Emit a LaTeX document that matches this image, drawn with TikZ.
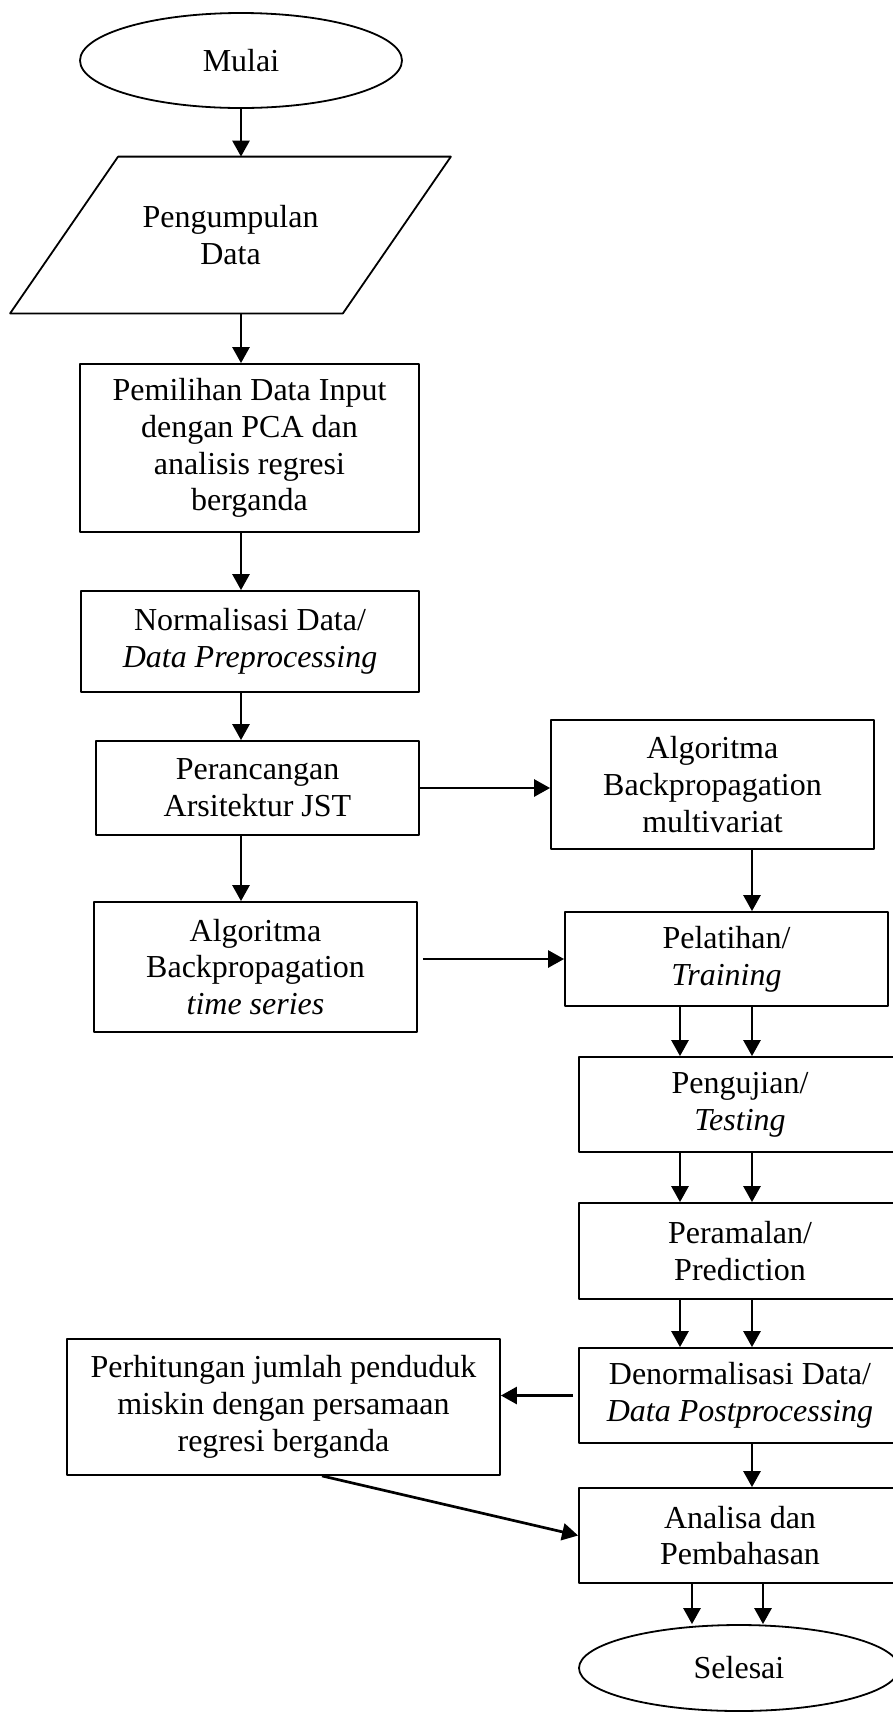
\documentclass[tikz,border=0pt]{standalone}
\usepackage{fontspec}
\setmainfont{Liberation Serif}
\usetikzlibrary{positioning, arrows.meta, shapes.geometric}

\begin{document}
\begin{tikzpicture}[x=0.5pt, y=-0.5pt, line join=round,
    font=\fontsize{16}{18.4}\selectfont,
    box/.style={draw=black, line width=0.9pt, rectangle, align=center, inner sep=0pt},
    term/.style={draw=black, line width=0.9pt, ellipse, inner sep=0pt},
    arr/.style={line width=1.35pt, -{Triangle[length=8pt, width=8.5pt]}}]

    \useasboundingbox (0,0) rectangle (893,1715);

    % Start
    \node[term, minimum width=161pt, minimum height=47.5pt] (mulai) at (241,60.5) {Mulai};

    % Data collection (parallelogram)
    \node[align=center, minimum width=166pt, minimum height=78pt, inner sep=0pt] (data) at (230.5,235) {Pengumpulan\\Data};
    \draw[line width=0.9pt] ([xshift=-27pt]data.south west) -- ([xshift=27pt]data.north west)
        -- ([xshift=27pt]data.north east) -- ([xshift=-27pt]data.south east) -- cycle;

    % Left column
    \node[box, minimum width=169.5pt, minimum height=84pt] (pilih) at (249.5,448) {Pemilihan Data Input\\dengan PCA dan\\analisis regresi\\berganda};
    \node[box, minimum width=169pt, minimum height=50.5pt] (norm) at (250,641.5) {Normalisasi Data/\\\textit{Data Preprocessing}};
    \node[box, minimum width=161.5pt, minimum height=47pt] (rancang) at (257.5,788) {Perancangan\\Arsitektur JST};
    \node[box, minimum width=161.5pt, minimum height=65pt] (timeser) at (255.5,967) {Algoritma\\Backpropagation\\\textit{time series}};
    \node[box, minimum width=216.5pt, minimum height=68pt] (hitung) at (283.5,1407) {Perhitungan jumlah penduduk\\miskin dengan persamaan\\regresi berganda};

    % Right column
    \node[box, minimum width=161.5pt, minimum height=64.5pt] (multi) at (712.5,784.5) {Algoritma\\Backpropagation\\multivariat};
    \node[box, minimum width=161.5pt, minimum height=47pt] (latih) at (726.5,959) {Pelatihan/\\\textit{Training}};
    \node[box, minimum width=161pt, minimum height=47.5pt] (uji) at (740,1104.5) {Pengujian/\\\textit{Testing}};
    \node[box, minimum width=161pt, minimum height=48pt] (ramal) at (740,1251) {Peramalan/\\Prediction};
    \node[box, minimum width=161pt, minimum height=47.5pt] (denorm) at (740,1395.5) {Denormalisasi Data/\\\textit{Data Postprocessing}};
    \node[box, minimum width=161pt, minimum height=47.5pt] (analisa) at (740,1535.5) {Analisa dan\\Pembahasan};

    % End
    \node[term, minimum width=160pt, minimum height=43pt] (selesai) at (739,1668) {Selesai};

    % Arrow columns
    \coordinate (colL) at (680,0);
    \coordinate (colR) at (752,0);
    \coordinate (colA) at (692,0);
    \coordinate (colB) at (763,0);
    \coordinate (colH) at (322,0);

    % Main line down the left
    \draw[arr] (mulai.south) -- (mulai.south |- data.north);
    \draw[arr] (data.south -| mulai.south) -- (pilih.north -| mulai.south);
    \draw[arr] (pilih.south -| mulai.south) -- (norm.north -| mulai.south);
    \draw[arr] (norm.south -| mulai.south) -- (rancang.north -| mulai.south);
    \draw[arr] (rancang.south -| mulai.south) -- (timeser.north -| mulai.south);

    % Across to the right
    \draw[arr] (rancang.east) -- (rancang.east -| multi.west);
    \draw[arr] (multi.south -| colR) -- (latih.north -| colR);
    \draw[arr, shorten <=2.5pt] (latih.west -| timeser.east) -- (latih.west);

    % Double arrows
    \draw[arr] (latih.south -| colL) -- (uji.north -| colL);
    \draw[arr] (latih.south -| colR) -- (uji.north -| colR);
    \draw[arr] (uji.south -| colL) -- (ramal.north -| colL);
    \draw[arr] (uji.south -| colR) -- (ramal.north -| colR);
    \draw[arr] (ramal.south -| colL) -- (denorm.north -| colL);
    \draw[arr] (ramal.south -| colR) -- (denorm.north -| colR);

    % Postprocessing and analysis
    \draw[arr, shorten <=2.5pt] (denorm.west) -- (denorm.west -| hitung.east);
    \draw[arr] (denorm.south -| colR) -- (analisa.north -| colR);
    \draw[arr] (hitung.south -| colH) -- (analisa.west);
    \draw[arr] (analisa.south -| colA) -- (selesai.north -| colA);
    \draw[arr] (analisa.south -| colB) -- (selesai.north -| colB);
\end{tikzpicture}
\end{document}
